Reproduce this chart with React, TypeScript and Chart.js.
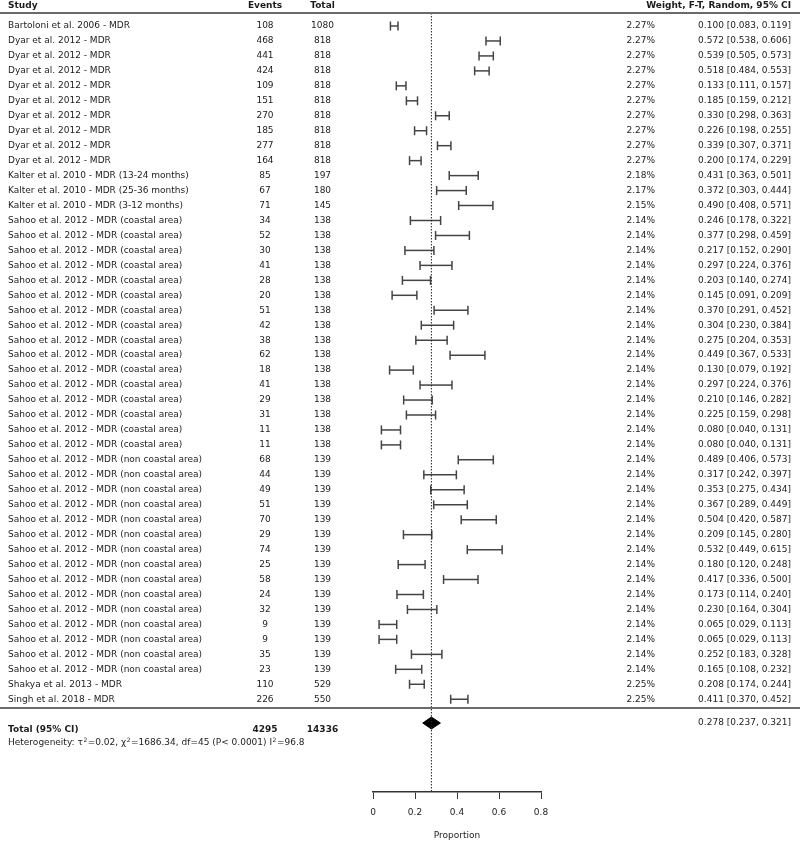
import React, { useEffect, useRef } from "react";
import { Chart, registerables } from "chart.js";

Chart.register(...registerables);

const FONT = "'DejaVu Sans', 'Liberation Sans', sans-serif";

const studies = [
  "Bartoloni et al. 2006 - MDR",
  "Dyar et al. 2012 - MDR",
  "Dyar et al. 2012 - MDR",
  "Dyar et al. 2012 - MDR",
  "Dyar et al. 2012 - MDR",
  "Dyar et al. 2012 - MDR",
  "Dyar et al. 2012 - MDR",
  "Dyar et al. 2012 - MDR",
  "Dyar et al. 2012 - MDR",
  "Dyar et al. 2012 - MDR",
  "Kalter et al. 2010 - MDR (13-24 months)",
  "Kalter et al. 2010 - MDR (25-36 months)",
  "Kalter et al. 2010 - MDR (3-12 months)",
  "Sahoo et al. 2012 - MDR (coastal area)",
  "Sahoo et al. 2012 - MDR (coastal area)",
  "Sahoo et al. 2012 - MDR (coastal area)",
  "Sahoo et al. 2012 - MDR (coastal area)",
  "Sahoo et al. 2012 - MDR (coastal area)",
  "Sahoo et al. 2012 - MDR (coastal area)",
  "Sahoo et al. 2012 - MDR (coastal area)",
  "Sahoo et al. 2012 - MDR (coastal area)",
  "Sahoo et al. 2012 - MDR (coastal area)",
  "Sahoo et al. 2012 - MDR (coastal area)",
  "Sahoo et al. 2012 - MDR (coastal area)",
  "Sahoo et al. 2012 - MDR (coastal area)",
  "Sahoo et al. 2012 - MDR (coastal area)",
  "Sahoo et al. 2012 - MDR (coastal area)",
  "Sahoo et al. 2012 - MDR (coastal area)",
  "Sahoo et al. 2012 - MDR (coastal area)",
  "Sahoo et al. 2012 - MDR (non coastal area)",
  "Sahoo et al. 2012 - MDR (non coastal area)",
  "Sahoo et al. 2012 - MDR (non coastal area)",
  "Sahoo et al. 2012 - MDR (non coastal area)",
  "Sahoo et al. 2012 - MDR (non coastal area)",
  "Sahoo et al. 2012 - MDR (non coastal area)",
  "Sahoo et al. 2012 - MDR (non coastal area)",
  "Sahoo et al. 2012 - MDR (non coastal area)",
  "Sahoo et al. 2012 - MDR (non coastal area)",
  "Sahoo et al. 2012 - MDR (non coastal area)",
  "Sahoo et al. 2012 - MDR (non coastal area)",
  "Sahoo et al. 2012 - MDR (non coastal area)",
  "Sahoo et al. 2012 - MDR (non coastal area)",
  "Sahoo et al. 2012 - MDR (non coastal area)",
  "Sahoo et al. 2012 - MDR (non coastal area)",
  "Shakya et al. 2013 - MDR",
  "Singh et al. 2018 - MDR",
];

const events = [
  108, 468, 441, 424, 109, 151, 270, 185, 277, 164, 85, 67, 71, 34, 52, 30, 41,
  28, 20, 51, 42, 38, 62, 18, 41, 29, 31, 11, 11, 68, 44, 49, 51, 70, 29, 74,
  25, 58, 24, 32, 9, 9, 35, 23, 110, 226,
];

const totals = [
  1080, 818, 818, 818, 818, 818, 818, 818, 818, 818, 197, 180, 145, 138, 138,
  138, 138, 138, 138, 138, 138, 138, 138, 138, 138, 138, 138, 138, 138, 139,
  139, 139, 139, 139, 139, 139, 139, 139, 139, 139, 139, 139, 139, 139, 529,
  550,
];

const weights = [
  2.27, 2.27, 2.27, 2.27, 2.27, 2.27, 2.27, 2.27, 2.27, 2.27, 2.18, 2.17, 2.15,
  2.14, 2.14, 2.14, 2.14, 2.14, 2.14, 2.14, 2.14, 2.14, 2.14, 2.14, 2.14, 2.14,
  2.14, 2.14, 2.14, 2.14, 2.14, 2.14, 2.14, 2.14, 2.14, 2.14, 2.14, 2.14, 2.14,
  2.14, 2.14, 2.14, 2.14, 2.14, 2.25, 2.25,
];

const estimates = [
  0.1, 0.572, 0.539, 0.518, 0.133, 0.185, 0.33, 0.226, 0.339, 0.2, 0.431,
  0.372, 0.49, 0.246, 0.377, 0.217, 0.297, 0.203, 0.145, 0.37, 0.304, 0.275,
  0.449, 0.13, 0.297, 0.21, 0.225, 0.08, 0.08, 0.489, 0.317, 0.353, 0.367,
  0.504, 0.209, 0.532, 0.18, 0.417, 0.173, 0.23, 0.065, 0.065, 0.252, 0.165,
  0.208, 0.411,
];

const lowers = [
  0.083, 0.538, 0.505, 0.484, 0.111, 0.159, 0.298, 0.198, 0.307, 0.174, 0.363,
  0.303, 0.408, 0.178, 0.298, 0.152, 0.224, 0.14, 0.091, 0.291, 0.23, 0.204,
  0.367, 0.079, 0.224, 0.146, 0.159, 0.04, 0.04, 0.406, 0.242, 0.275, 0.289,
  0.42, 0.145, 0.449, 0.12, 0.336, 0.114, 0.164, 0.029, 0.029, 0.183, 0.108,
  0.174, 0.37,
];

const uppers = [
  0.119, 0.606, 0.573, 0.553, 0.157, 0.212, 0.363, 0.255, 0.371, 0.229, 0.501,
  0.444, 0.571, 0.322, 0.459, 0.29, 0.376, 0.274, 0.209, 0.452, 0.384, 0.353,
  0.533, 0.192, 0.376, 0.282, 0.298, 0.131, 0.131, 0.573, 0.397, 0.434, 0.449,
  0.587, 0.28, 0.615, 0.248, 0.5, 0.24, 0.304, 0.113, 0.113, 0.328, 0.232,
  0.244, 0.452,
];

const pooledEstimate = 0.278;
const pooledLower = 0.237;
const pooledUpper = 0.321;
const totalEvents = 4295;
const totalParticipants = 14336;
const heterogeneityParts = [
  { text: "Heterogeneity: τ", sup: false },
  { text: "2", sup: true },
  { text: "=0.02, χ", sup: false },
  { text: "2", sup: true },
  { text: "=1686.34, df=45 (P< 0.0001) I", sup: false },
  { text: "2", sup: true },
  { text: "=96.8", sup: false },
];
const xTicks = [0, 0.2, 0.4, 0.6, 0.8];
const headers = ["Study", "Events", "Total", "Weight, F-T, Random, 95% CI"];

// layout (in row units of the y scale)
const Y_MIN = -0.869;
const Y_MAX = 51.2;
const HEADER_ROW = -1.37;
const SEP_ROW = 45.59;
const DIAMOND_ROW = 46.59;
const DIAMOND_HALF = 0.4;
const TOTAL_ROW = 47.06;
const HET_ROW = 47.93;

const TEXT = "#1c1c1c";
const LINE = "#444444";

const fmt3 = (v: number) => v.toFixed(3);

const tablePlugin = {
  id: "forestTable",
  afterDraw(chart: any) {
    const ctx = chart.ctx as CanvasRenderingContext2D;
    const ys = chart.scales.y;
    const W = chart.width;
    ctx.save();
    ctx.fillStyle = TEXT;
    ctx.textBaseline = "middle";

    const colStudy = 8;
    const colEvents = 265;
    const colTotal = 322.5;
    const colWeight = 655;
    const colCI = 791;

    // header
    const hy = ys.getPixelForValue(HEADER_ROW);
    ctx.font = `bold 9px ${FONT}`;
    ctx.textAlign = "left";
    ctx.fillText(headers[0], colStudy, hy);
    ctx.textAlign = "center";
    ctx.fillText(headers[1], colEvents, hy);
    ctx.fillText(headers[2], colTotal, hy);
    ctx.textAlign = "right";
    ctx.fillText(headers[3], colCI, hy);

    // rules
    ctx.strokeStyle = "#6a6a6a";
    ctx.lineWidth = 2;
    [Y_MIN, SEP_ROW].forEach((r) => {
      const py = Math.round(ys.getPixelForValue(r));
      ctx.beginPath();
      ctx.moveTo(0, py);
      ctx.lineTo(W, py);
      ctx.stroke();
    });

    // rows
    ctx.font = `9px ${FONT}`;
    studies.forEach((s, i) => {
      const py = ys.getPixelForValue(i);
      ctx.textAlign = "left";
      ctx.fillText(s, colStudy, py);
      ctx.textAlign = "center";
      ctx.fillText(String(events[i]), colEvents, py);
      ctx.fillText(String(totals[i]), colTotal, py);
      ctx.textAlign = "right";
      ctx.fillText(weights[i].toFixed(2) + "%", colWeight, py);
      ctx.fillText(
        `${fmt3(estimates[i])} [${fmt3(lowers[i])}, ${fmt3(uppers[i])}]`,
        colCI,
        py
      );
    });

    // total row
    const ty = ys.getPixelForValue(TOTAL_ROW);
    ctx.font = `bold 9px ${FONT}`;
    ctx.textAlign = "left";
    ctx.fillText("Total (95% CI)", colStudy, ty);
    ctx.textAlign = "center";
    ctx.fillText(String(totalEvents), colEvents, ty);
    ctx.fillText(String(totalParticipants), colTotal, ty);
    const dy = ys.getPixelForValue(DIAMOND_ROW);
    ctx.font = `9px ${FONT}`;
    ctx.textAlign = "right";
    ctx.fillText(
      `${fmt3(pooledEstimate)} [${fmt3(pooledLower)}, ${fmt3(pooledUpper)}]`,
      colCI,
      dy
    );

    // heterogeneity
    const hety = ys.getPixelForValue(HET_ROW);
    ctx.textAlign = "left";
    let x = colStudy;
    heterogeneityParts.forEach((p) => {
      if (p.sup) {
        ctx.font = `6px ${FONT}`;
        ctx.fillText(p.text, x + 0.5, hety - 3);
        x += ctx.measureText(p.text).width + 1;
      } else {
        ctx.font = `9px ${FONT}`;
        ctx.fillText(p.text, x, hety);
        x += ctx.measureText(p.text).width;
      }
    });
    ctx.restore();
  },
};

export default function App() {
  const ref = useRef<HTMLCanvasElement | null>(null);

  useEffect(() => {
    document.body.style.margin = "0";
    if (!ref.current) return;
    Chart.defaults.font.family = FONT;

    const ciSets = studies.map((_, i) => ({
      type: "scatter" as const,
      data: [
        { x: lowers[i], y: i },
        { x: uppers[i], y: i },
      ],
      showLine: true,
      borderColor: LINE,
      borderWidth: 1.5,
      pointStyle: "line" as const,
      rotation: 90,
      pointRadius: 4.5,
      pointHoverRadius: 4.5,
      pointBorderColor: LINE,
      pointBorderWidth: 1.5,
      clip: false as const,
    }));

    const diamond = {
      type: "scatter" as const,
      data: [
        { x: pooledLower, y: DIAMOND_ROW },
        { x: pooledEstimate, y: DIAMOND_ROW - DIAMOND_HALF },
        { x: pooledUpper, y: DIAMOND_ROW },
        { x: pooledEstimate, y: DIAMOND_ROW + DIAMOND_HALF },
        { x: pooledLower, y: DIAMOND_ROW },
      ],
      showLine: true,
      borderColor: "#000",
      borderWidth: 1,
      backgroundColor: "#000",
      fill: "shape" as any,
      pointRadius: 0,
      tension: 0,
    };

    const refLine = {
      type: "scatter" as const,
      data: [
        { x: pooledEstimate, y: Y_MIN },
        { x: pooledEstimate, y: Y_MAX },
      ],
      showLine: true,
      borderColor: "#222",
      borderWidth: 1,
      borderDash: [1.5, 1.5],
      pointRadius: 0,
    };

    const chart = new Chart(ref.current, {
      type: "scatter",
      data: { datasets: [refLine, ...ciSets, diamond] as any },
      options: {
        animation: false,
        responsive: false,
        devicePixelRatio: 1,
        layout: { padding: { left: 373, right: 259, top: 13, bottom: 0 } },
        plugins: {
          legend: { display: false },
          tooltip: { enabled: false },
          title: { display: false },
        },
        scales: {
          x: {
            type: "linear",
            position: "bottom",
            min: 0,
            max: 0.8,
            afterBuildTicks: (s: any) => {
              s.ticks = xTicks.map((v) => ({ value: v }));
            },
            afterFit: (s: any) => {
              s.height = 49;
            },
            ticks: {
              color: TEXT,
              font: { size: 9, family: FONT },
              padding: 8,
              maxRotation: 0,
              autoSkip: false,
              callback: (v: any) => String(v),
            },
            grid: {
              drawOnChartArea: false,
              drawTicks: true,
              tickLength: 7,
              color: "#333",
              lineWidth: 1,
            },
            border: { display: true, color: "#333", width: 1.5 },
            title: {
              display: true,
              text: "Proportion",
              color: TEXT,
              font: { size: 9, family: FONT },
              padding: { top: 0, bottom: 0 },
            },
          },
          y: {
            type: "linear",
            min: Y_MIN,
            max: Y_MAX,
            reverse: true,
            display: false,
          },
        },
      },
      plugins: [tablePlugin],
    });

    return () => chart.destroy();
  }, []);

  return (
    <canvas
      ref={ref}
      width={800}
      height={841}
      style={{ display: "block", width: 800, height: 841 }}
    />
  );
}
